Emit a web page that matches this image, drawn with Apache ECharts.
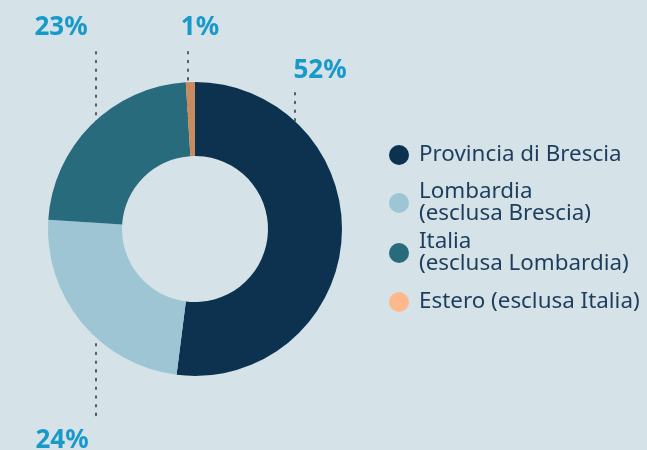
<!DOCTYPE html>
<html>
<head>
<meta charset="utf-8">
<script src="https://cdn.jsdelivr.net/npm/echarts@6/dist/echarts.min.js"></script>
<style>
  html, body { margin: 0; padding: 0; background: #d5e3e8; }
  #chart { width: 647px; height: 450px; }
</style>
</head>
<body>
<div id="chart"></div>
<script>
const names = [
  'Provincia di Brescia',
  'Lombardia\n(esclusa Brescia)',
  'Italia\n(esclusa Lombardia)',
  'Estero (esclusa Italia)'
];
const values = [52, 24, 23, 1];
const sliceColors = ['#0c3250', '#9dc5d4', '#286b7c', '#c98a5d'];
const legendColors = ['#0c3250', '#9dc5d4', '#286b7c', '#fdb98c'];

// label position [x, y] and dotted leader [x, yTop, yBottom]
const labelPos = [[320, 71], [62, 441], [61, 28], [200, 28]];
const leaderPos = [[295, 93, 163], [96, 344, 422], [96, 52, 132], [188, 52, 114]];
const legendTops = [139, 176, 226, 286];

const chart = echarts.init(document.getElementById('chart'));
chart.setOption({
  backgroundColor: '#d5e3e8',
  legend: names.map((n, i) => ({
    orient: 'vertical',
    left: 384,
    top: legendTops[i],
    icon: 'circle',
    itemWidth: 20,
    itemHeight: 20,
    selectedMode: false,
    data: [{name: n, itemStyle: {color: legendColors[i]}}],
    textStyle: {
      fontFamily: 'Noto Sans',
      fontSize: 22.4,
      lineHeight: 22,
      color: '#1d3d5c',
      padding: [0, 0, 0, 5]
    }
  })),
  series: [{
    type: 'pie',
    center: [195, 229],
    radius: [73, 147],
    startAngle: 90,
    silent: true,
    data: names.map((n, i) => ({
      name: n,
      value: values[i],
      itemStyle: {color: sliceColors[i]}
    })),
    label: {
      show: true,
      formatter: p => p.value + '%',
      fontFamily: 'Noto Sans',
      fontWeight: 'bold',
      fontSize: 26,
      color: '#1799c9',
      overflow: 'none',
      width: 80
    },
    labelLine: {
      show: true,
      lineStyle: {color: '#555b60', width: 2, type: [1.6, 7.1], cap: 'round'}
    },
    labelLayout: params => {
      const i = params.dataIndex;
      const l = leaderPos[i];
      return {
        x: labelPos[i][0],
        y: labelPos[i][1],
        align: 'center',
        verticalAlign: 'middle',
        labelLinePoints: [[l[0], l[1]], [l[0], (l[1] + l[2]) / 2], [l[0], l[2]]]
      };
    }
  }]
});
</script>
</body>
</html>
